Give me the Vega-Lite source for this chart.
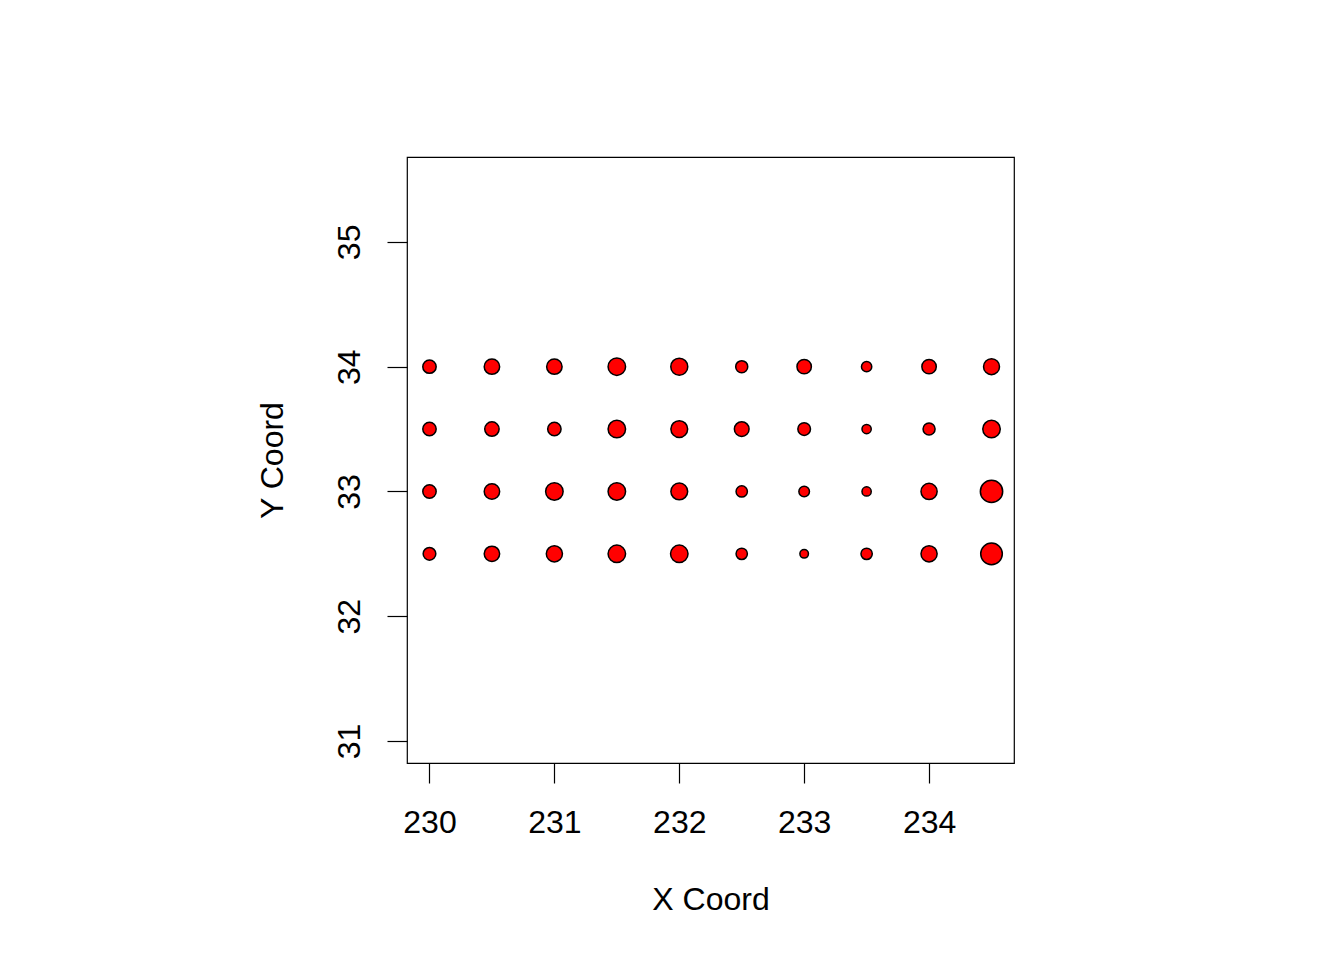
{
  "$schema": "https://vega.github.io/schema/vega-lite/v6.json",
  "width": 607,
  "height": 606,
  "autosize": {"type": "none"},
  "padding": {"left": 407, "top": 157, "right": 330, "bottom": 197},
  "background": "white",
  "config": {
    "view": {"stroke": "black", "strokeWidth": 1.2},
    "font": "Liberation Sans"
  },
  "data": {"values": [
    {"x": 230, "y": 34, "value": 13}, {"x": 230.5, "y": 34, "value": 15}, {"x": 231, "y": 34, "value": 15}, {"x": 231.5, "y": 34, "value": 17}, {"x": 232, "y": 34, "value": 16.5},
    {"x": 232.5, "y": 34, "value": 11.7}, {"x": 233, "y": 34, "value": 14}, {"x": 233.5, "y": 34, "value": 10}, {"x": 234, "y": 34, "value": 14}, {"x": 234.5, "y": 34, "value": 15.5},
    {"x": 230, "y": 33.5, "value": 13}, {"x": 230.5, "y": 33.5, "value": 14}, {"x": 231, "y": 33.5, "value": 13}, {"x": 231.5, "y": 33.5, "value": 17}, {"x": 232, "y": 33.5, "value": 16.3},
    {"x": 232.5, "y": 33.5, "value": 14.3}, {"x": 233, "y": 33.5, "value": 12.3}, {"x": 233.5, "y": 33.5, "value": 9}, {"x": 234, "y": 33.5, "value": 11.7}, {"x": 234.5, "y": 33.5, "value": 17},
    {"x": 230, "y": 33, "value": 13}, {"x": 230.5, "y": 33, "value": 15}, {"x": 231, "y": 33, "value": 17}, {"x": 231.5, "y": 33, "value": 17}, {"x": 232, "y": 33, "value": 16.3},
    {"x": 232.5, "y": 33, "value": 11}, {"x": 233, "y": 33, "value": 10.3}, {"x": 233.5, "y": 33, "value": 9}, {"x": 234, "y": 33, "value": 15.7}, {"x": 234.5, "y": 33, "value": 21.7},
    {"x": 230, "y": 32.5, "value": 12.3}, {"x": 230.5, "y": 32.5, "value": 15}, {"x": 231, "y": 32.5, "value": 15.7}, {"x": 231.5, "y": 32.5, "value": 17}, {"x": 232, "y": 32.5, "value": 17},
    {"x": 232.5, "y": 32.5, "value": 11}, {"x": 233, "y": 32.5, "value": 8.3}, {"x": 233.5, "y": 32.5, "value": 11}, {"x": 234, "y": 32.5, "value": 15.7}, {"x": 234.5, "y": 32.5, "value": 21}
  ]},
  "mark": {"type": "point", "shape": "circle", "filled": true, "fill": "#ff0000", "stroke": "black", "strokeWidth": 1.5, "opacity": 1},
  "encoding": {
    "x": {
      "field": "x", "type": "quantitative",
      "scale": {"domain": [229.82, 234.68], "nice": false, "zero": false},
      "axis": {
        "values": [230, 231, 232, 233, 234], "domain": false, "grid": false,
        "ticks": true, "tickSize": 20, "tickColor": "black", "tickWidth": 1.2,
        "labelFontSize": 32, "labelColor": "black", "labelPadding": 24, "labelFont": "Liberation Sans",
        "title": "X Coord", "titleFontSize": 32, "titleFontWeight": "normal", "titleColor": "black", "titlePadding": 46, "titleFont": "Liberation Sans"
      }
    },
    "y": {
      "field": "y", "type": "quantitative",
      "scale": {"domain": [30.824, 35.68], "nice": false, "zero": false},
      "axis": {
        "values": [31, 32, 33, 34, 35], "domain": false, "grid": false,
        "ticks": true, "tickSize": 20, "tickColor": "black", "tickWidth": 1.2,
        "labelFontSize": 32, "labelColor": "black", "labelAngle": -90, "labelAlign": "center", "labelBaseline": "bottom", "labelPadding": 21, "labelFont": "Liberation Sans",
        "title": "Y Coord", "titleFontSize": 32, "titleFontWeight": "normal", "titleColor": "black", "titlePadding": 44, "titleFont": "Liberation Sans"
      }
    },
    "size": {
      "field": "value", "type": "quantitative",
      "scale": {"type": "pow", "exponent": 2, "domain": [0, 24], "range": [0, 610]},
      "legend": null
    }
  }
}
